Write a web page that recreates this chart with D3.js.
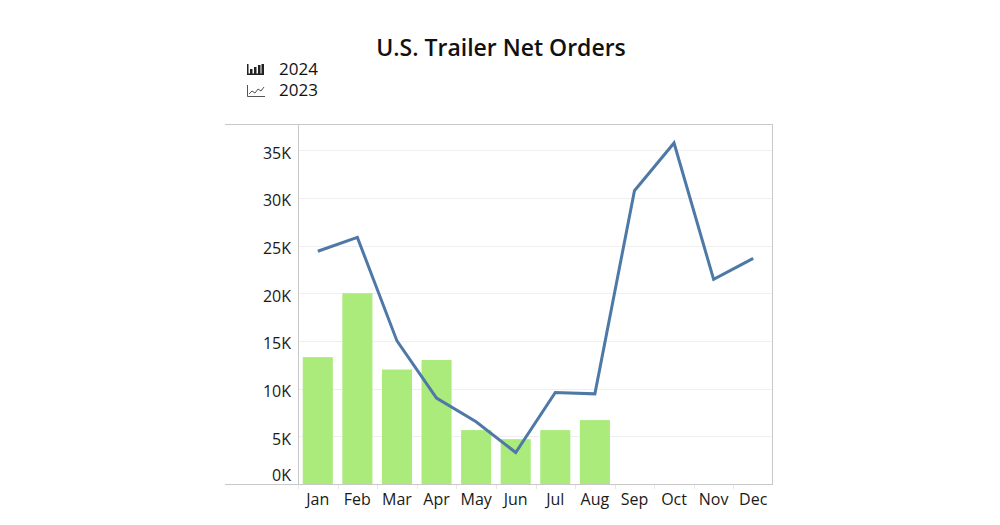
<!DOCTYPE html>
<html>
<head>
<meta charset="utf-8">
<script src="https://cdn.jsdelivr.net/npm/d3@7"></script>
<style>
  html, body { margin: 0; padding: 0; background: #fff; }
  svg { display: block; font-family: "Open Sans", "Noto Sans", sans-serif; }
</style>
</head>
<body>
<svg id="chart" width="1000" height="525"></svg>
<script>
const months = ["Jan","Feb","Mar","Apr","May","Jun","Jul","Aug","Sep","Oct","Nov","Dec"];
const orders2024 = [13300, 20000, 12000, 13000, 5650, 4700, 5650, 6700];
const orders2023 = [24400, 25850, 15000, 9000, 6530, 3300, 9600, 9450, 30750, 35750, 21450, 23650];
const yTicks = [0, 5000, 10000, 15000, 20000, 25000, 30000, 35000];
const yTickLabels = ["0K","5K","10K","15K","20K","25K","30K","35K"];
const legendLabels = ["2024", "2023"];
const title = "U.S. Trailer Net Orders";

(function () {
const svg = d3.select("#chart");
const pLeft = 298, pRight = 773, pTop = 124, pBottom = 484;

const x = d3.scaleBand().domain(months).range([pLeft, pRight]).paddingInner(0.24).paddingOuter(0.12);
const xc = d3.scaleBand().domain(months).range([pLeft, pRight]).padding(0);
const y = d3.scaleLinear().domain([0, 37740]).range([pBottom, pTop]);

// gridlines
svg.append("g").selectAll("line").data(yTicks.filter(d => d > 0)).join("line")
  .attr("x1", pLeft).attr("x2", pRight)
  .attr("y1", d => Math.round(y(d)) + 0.5).attr("y2", d => Math.round(y(d)) + 0.5)
  .attr("stroke", "#efefef").attr("stroke-width", 1);

// frame
const frame = svg.append("g").attr("stroke", "#c8c8c8").attr("stroke-width", 1).attr("fill", "none");
frame.append("line").attr("x1", 225).attr("x2", pRight).attr("y1", pTop + 0.5).attr("y2", pTop + 0.5);
frame.append("line").attr("x1", 225).attr("x2", pRight).attr("y1", pBottom + 0.5).attr("y2", pBottom + 0.5);
frame.append("line").attr("x1", pLeft + 0.5).attr("x2", pLeft + 0.5).attr("y1", pTop).attr("y2", pBottom);
frame.append("line").attr("x1", pRight - 0.5).attr("x2", pRight - 0.5).attr("y1", pTop).attr("y2", pBottom);

// x tick separators
svg.append("g").selectAll("line").data(months).join("line")
  .attr("x1", d => Math.round(xc(d)) + 0.5).attr("x2", d => Math.round(xc(d)) + 0.5)
  .attr("y1", pBottom + 1).attr("y2", pBottom + 5)
  .attr("stroke", "#e6e6e6");

// bars
svg.append("g").selectAll("rect").data(orders2024).join("rect")
  .attr("x", (d, i) => x(months[i]))
  .attr("width", x.bandwidth())
  .attr("y", d => y(d))
  .attr("height", d => y(0) - y(d))
  .attr("fill", "#abeb7b");

// line
const line = d3.line()
  .x((d, i) => xc(months[i]) + xc.bandwidth() / 2)
  .y(d => y(d));
svg.append("path").datum(orders2023)
  .attr("d", line)
  .attr("fill", "none")
  .attr("stroke", "#4e79a7")
  .attr("stroke-width", 3)
  .attr("stroke-linejoin", "miter");

// y axis labels
const yAxis = d3.axisLeft(y).tickValues(yTicks).tickFormat((d, i) => yTickLabels[i]).tickSize(0).tickPadding(0);
const gy = svg.append("g").attr("transform", `translate(291,0)`).call(yAxis);
gy.select(".domain").remove();
gy.selectAll("text")
  .attr("font-family", "\"Open Sans\", \"Noto Sans\", sans-serif")
  .attr("font-size", 16).attr("fill", "#1a1a1a")
  .attr("dy", d => d === 0 ? "-0.25em" : "0.5em");

// x axis labels
const xAxis = d3.axisBottom(xc).tickSize(0).tickPadding(0);
const gx = svg.append("g").attr("transform", `translate(0,${pBottom})`).call(xAxis);
gx.select(".domain").remove();
gx.selectAll("text")
  .attr("font-family", "\"Open Sans\", \"Noto Sans\", sans-serif")
  .attr("font-size", 16).attr("fill", "#1a1a1a")
  .attr("y", 21).attr("dy", 0);

// title
svg.append("text").attr("x", 501).attr("y", 56).attr("text-anchor", "middle")
  .attr("font-size", 23).attr("font-weight", 600).attr("fill", "#111")
  .attr("font-family", "\"Open Sans\", sans-serif")
  .text(title);

// legend
const lg = svg.append("g");
const bi = lg.append("g").attr("fill", "#222");
bi.append("rect").attr("x", 247).attr("y", 64).attr("width", 1.5).attr("height", 11);
bi.append("rect").attr("x", 247).attr("y", 73.5).attr("width", 17).attr("height", 1.5);
bi.append("rect").attr("x", 250).attr("y", 69).attr("width", 2.5).attr("height", 5);
bi.append("rect").attr("x", 254).attr("y", 67).attr("width", 2.5).attr("height", 7);
bi.append("rect").attr("x", 258).attr("y", 65).attr("width", 2.5).attr("height", 9);
bi.append("rect").attr("x", 261.5).attr("y", 64).attr("width", 2.5).attr("height", 10);
const li = lg.append("g").attr("fill", "none").attr("stroke", "#555").attr("stroke-width", 1);
li.append("path").attr("d", "M247.5,85 V96.5 H265");
li.append("path").attr("d", "M249,94 L252,91 L255,93 L258,89 L261,91 L264,87");
lg.selectAll("text.leg").data(legendLabels).join("text").attr("class", "leg")
  .attr("x", 279).attr("y", (d, i) => 75 + i * 21)
  .attr("font-size", 17).attr("fill", "#111")
  .attr("font-family", "\"Open Sans\", sans-serif")
  .text(d => d);
})();
</script>
</body>
</html>
